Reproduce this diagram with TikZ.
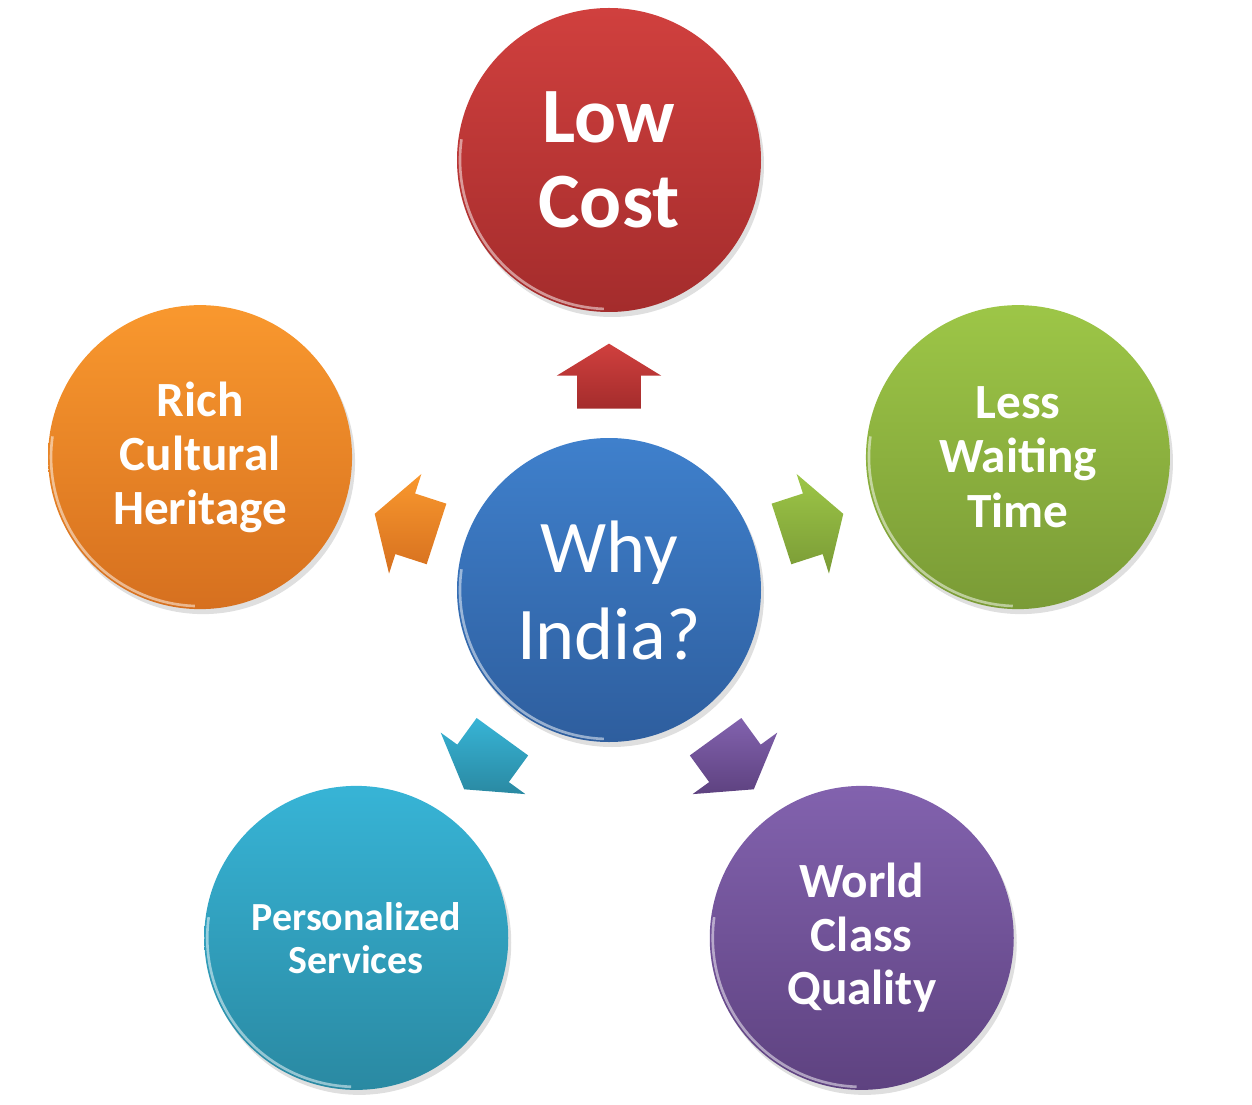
\documentclass[tikz,border=0pt]{standalone}
\usepackage{fontspec}
\setmainfont{Carlito}
\usetikzlibrary{shapes.arrows,shadows}

\definecolor{bluetop}{HTML}{3F80CC}   \definecolor{bluebot}{HTML}{2E5E9E}
\definecolor{redtop}{HTML}{D0403E}    \definecolor{redbot}{HTML}{A42C2C}
\definecolor{orangetop}{HTML}{F9982E} \definecolor{orangebot}{HTML}{D6701F}
\definecolor{cyantop}{HTML}{37B4D6}   \definecolor{cyanbot}{HTML}{2A89A2}
\definecolor{purpletop}{HTML}{8262AE} \definecolor{purplebot}{HTML}{5E4280}
\definecolor{greentop}{HTML}{9DC647}  \definecolor{greenbot}{HTML}{7A9B36}

\tikzset{
    ball/.style={circle, minimum size=6.08cm, inner sep=0pt, text=white, align=center,
        top color=#1top, bottom color=#1bot,
        drop shadow={opacity=0.25, shadow xshift=0.06cm, shadow yshift=-0.1cm}},
    pointer/.style={single arrow, minimum height=1.3cm, inner xsep=0pt, inner ysep=0.63cm,
        single arrow head extend=0.41cm, single arrow tip angle=117,
        top color=#1top, bottom color=#1bot},
    gloss/.style={white, opacity=.5, line width=1.5pt}
}

\begin{document}
\begin{tikzpicture}
    \useasboundingbox (-12.18,-10.28) rectangle (12.86,11.8);
    \node[ball=blue, font=\fontsize{42.3}{49.5}\selectfont] (why) at (0,0) {Why\\India?};
    \draw[gloss] (why.center) ++(172:2.98) arc[start angle=172, end angle=268, radius=2.98];
    \foreach[count=\x] \c/\s/\l/\t in {red/44.6/48/{Low\\Cost},
        orange/28/30.7/{Rich\\Cultural\\Heritage},
        cyan/22.7/24.5/{Personalized\\Services},
        purple/28/30.4/{World\\Class\\Quality},
        green/28/31.2/{Less\\Waiting\\Time}}
    {
        \node[ball=\c, font=\bfseries\fontsize{\s}{\l}\selectfont] (b\x) at (18+72*\x:8.6) {\t};
        \draw[gloss] (b\x.center) ++(172:2.98) arc[start angle=172, end angle=268, radius=2.98];
        \node[pointer=\c, rotate=18+72*\x, anchor=tail] (p\x) at (18+72*\x:3.62) {};
    }
\end{tikzpicture}
\end{document}
